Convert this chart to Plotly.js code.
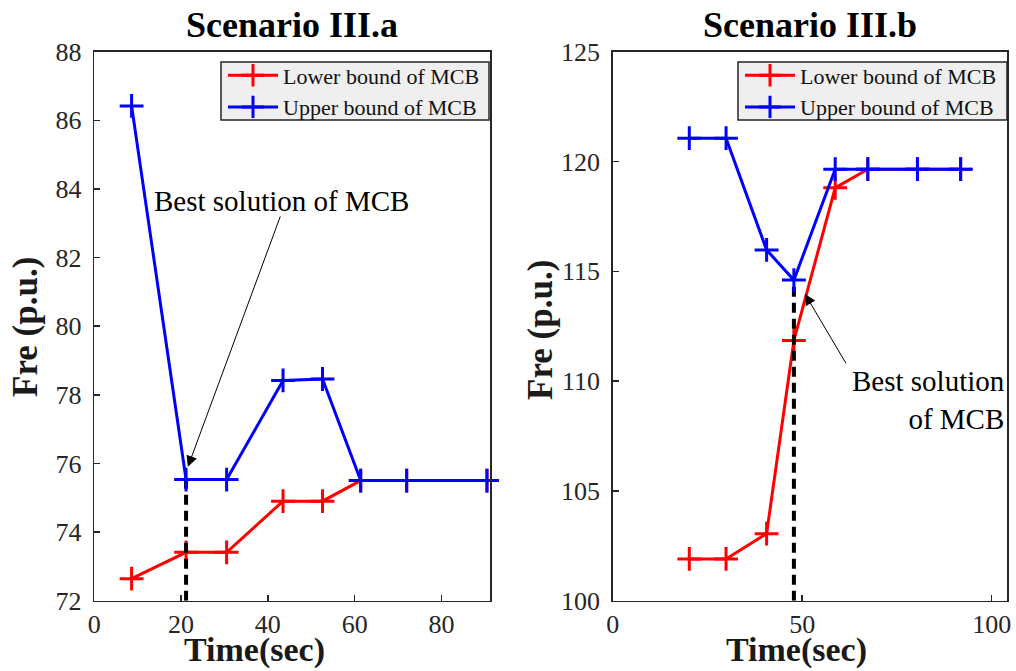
<!DOCTYPE html>
<html>
<head>
<meta charset="utf-8">
<script src="https://cdn.plot.ly/plotly-3.0.1.min.js"></script>
<style>html,body{margin:0;padding:0;background:#fff;}#chart{width:1016px;height:671px;}</style>
</head>
<body>
<div id="chart"></div>
<script>
// Scenario III.a
const timeA = [8.6, 21.15, 30.5, 43.5, 52.6, 61.4, 72.0, 90.5];
const lowerA = [72.64, 73.41, 73.41, 74.9, 74.9, 75.5, 75.5, 75.5];
const upperA = [86.42, 75.53, 75.53, 78.42, 78.46, 75.5, 75.5, 75.5];
const bestTimeA = [21.15, 21.15];
const bestFreA = [72, 75.5];

// Scenario III.b
const timeB = [20.2, 29.9, 40.6, 47.8, 58.7, 67.3, 80.4, 91.8];
const lowerB = [101.9, 101.9, 103.05, 111.85, 118.8, 119.65, 119.65, 119.65];
const upperB = [121.06, 121.06, 115.97, 114.6, 119.65, 119.65, 119.65, 119.65];
const bestTimeB = [47.8, 47.8];
const bestFreB = [100, 114.6];

const seriesNames = ['Lower bound of MCB', 'Upper bound of MCB'];
const titles = ['Scenario III.a', 'Scenario III.b'];
const xTitle = 'Time(sec)';
const yTitle = 'Fre (p.u.)';

const SERIF = 'Liberation Serif, Times New Roman, serif';
const AXC = '#262626';
const W = 1016, H = 671;

function boundTrace(x, y, name, color, xa, ya, legend) {
  return {
    x: x, y: y, name: name, type: 'scatter', mode: 'lines+markers',
    xaxis: xa, yaxis: ya, legend: legend, cliponaxis: false,
    line: {color: color, width: 3},
    marker: {symbol: 'cross-thin-open', size: 17, color: color, line: {color: color, width: 3}}
  };
}
function bestTrace(x, y, xa, ya) {
  return {
    x: x, y: y, type: 'scatter', mode: 'lines', showlegend: false, hoverinfo: 'skip',
    xaxis: xa, yaxis: ya,
    line: {color: '#000', width: 4, dash: '10px,6px'}
  };
}

const data = [
  boundTrace(timeA, lowerA, seriesNames[0], '#ff0000', 'x', 'y', 'legend'),
  bestTrace(bestTimeA, bestFreA, 'x', 'y'),
  boundTrace(timeA, upperA, seriesNames[1], '#0000ff', 'x', 'y', 'legend'),
  boundTrace(timeB, lowerB, seriesNames[0], '#ff0000', 'x2', 'y2', 'legend2'),
  bestTrace(bestTimeB, bestFreB, 'x2', 'y2'),
  boundTrace(timeB, upperB, seriesNames[1], '#0000ff', 'x2', 'y2', 'legend2')
];

function xAxis(domain, range, tickvals, anchor) {
  return {
    domain: domain, range: range, tickvals: tickvals, anchor: anchor,
    showline: true, mirror: true, linecolor: AXC, linewidth: 1.5,
    ticks: 'inside', ticklen: 6, tickwidth: 1.5, tickcolor: AXC,
    showgrid: false, zeroline: false, fixedrange: true,
    tickfont: {family: SERIF, size: 26, color: AXC}
  };
}
function yAxis(domain, range, dtick, anchor) {
  return {
    domain: domain, range: range, dtick: dtick, tick0: range[0], anchor: anchor,
    showline: true, mirror: true, linecolor: AXC, linewidth: 1.5,
    ticks: 'inside', ticklen: 6, tickwidth: 1.5, tickcolor: AXC,
    showgrid: false, zeroline: false, fixedrange: true,
    ticklabelstandoff: 6,
    tickfont: {family: SERIF, size: 26, color: AXC}
  };
}

const legendStyle = {
  bgcolor: 'rgba(0,0,0,0)', borderwidth: 0,
  font: {family: SERIF, size: 22, color: '#111'},
  xanchor: 'left', yanchor: 'top', tracegroupgap: 0, itemwidth: 50
};

function legendBox(x0, x1) {
  return {type: 'rect', xref: 'paper', yref: 'paper', layer: 'above',
          x0: x0 / W, x1: x1 / W, y0: (H - 120) / H, y1: (H - 62) / H,
          fillcolor: '#efefef', line: {color: AXC, width: 1.5}};
}

const layout = {
  width: W, height: H,
  margin: {l: 0, r: 0, t: 0, b: 0},
  paper_bgcolor: '#fff', plot_bgcolor: '#fff',
  showlegend: true,
  xaxis: xAxis([0.0928, 0.4823], [0, 91.2], [0, 20, 40, 60, 80], 'y'),
  yaxis: yAxis([0.1048, 0.923], [72, 88], 2, 'x'),
  xaxis2: xAxis([0.6031, 0.9914], [0, 104.1], [0, 50, 100], 'y2'),
  yaxis2: yAxis([0.1048, 0.923], [100, 125], 5, 'x2'),
  legend: Object.assign({x: 223 / W, y: (H - 54.5) / H}, legendStyle),
  legend2: Object.assign({x: 740 / W, y: (H - 54.5) / H}, legendStyle),
  shapes: [legendBox(221, 489), legendBox(738, 1007)],
  annotations: [
    {text: '<b>' + titles[0] + '</b>', xref: 'paper', yref: 'paper', x: 292 / W, y: (H - 25) / H,
     xanchor: 'center', yanchor: 'middle', showarrow: false, font: {family: SERIF, size: 36, color: '#000'}},
    {text: '<b>' + titles[1] + '</b>', xref: 'paper', yref: 'paper', x: 810 / W, y: (H - 25) / H,
     xanchor: 'center', yanchor: 'middle', showarrow: false, font: {family: SERIF, size: 36, color: '#000'}},
    {text: '<b>' + yTitle + '</b>', xref: 'paper', yref: 'paper', x: 25 / W, y: (H - 327) / H, textangle: -90,
     xanchor: 'center', yanchor: 'middle', showarrow: false, font: {family: SERIF, size: 35, color: '#1a1a1a'}},
    {text: '<b>' + yTitle + '</b>', xref: 'paper', yref: 'paper', x: 540 / W, y: (H - 330) / H, textangle: -90,
     xanchor: 'center', yanchor: 'middle', showarrow: false, font: {family: SERIF, size: 35, color: '#1a1a1a'}},
    {text: '<b>' + xTitle + '</b>', xref: 'paper', yref: 'paper', x: 254 / W, y: 0,
     xanchor: 'center', yanchor: 'bottom', showarrow: false, font: {family: SERIF, size: 34, color: '#1a1a1a'}},
    {text: '<b>' + xTitle + '</b>', xref: 'paper', yref: 'paper', x: 796 / W, y: 0,
     xanchor: 'center', yanchor: 'bottom', showarrow: false, font: {family: SERIF, size: 34, color: '#1a1a1a'}},
    // Best solution text + arrows
    {text: 'Best solution of MCB', xref: 'x', yref: 'y', x: 43.1, y: 83.65,
     xanchor: 'center', yanchor: 'middle', showarrow: false, font: {family: SERIF, size: 29, color: '#000'}},
    {text: '', xref: 'x', yref: 'y', x: 21.57, y: 75.9, ax: 93, ay: -252, axref: 'pixel', ayref: 'pixel',
     showarrow: true, arrowhead: 2, arrowsize: 2.2, arrowwidth: 1, arrowcolor: '#000', standoff: 0},
    {text: 'Best solution<br>of MCB', xref: 'x2', yref: 'y2', x: 104.1, y: 109.16, align: 'right',
     xanchor: 'right', yanchor: 'middle', showarrow: false, font: {family: SERIF, size: 29, color: '#000'}},
    {text: '', xref: 'x2', yref: 'y2', x: 50.7, y: 113.97, ax: 42, ay: 71, axref: 'pixel', ayref: 'pixel',
     showarrow: true, arrowhead: 2, arrowsize: 2.2, arrowwidth: 1, arrowcolor: '#000', standoff: 0}
  ]
};

Plotly.newPlot('chart', data, layout, {staticPlot: true, displayModeBar: false});
</script>
</body>
</html>
